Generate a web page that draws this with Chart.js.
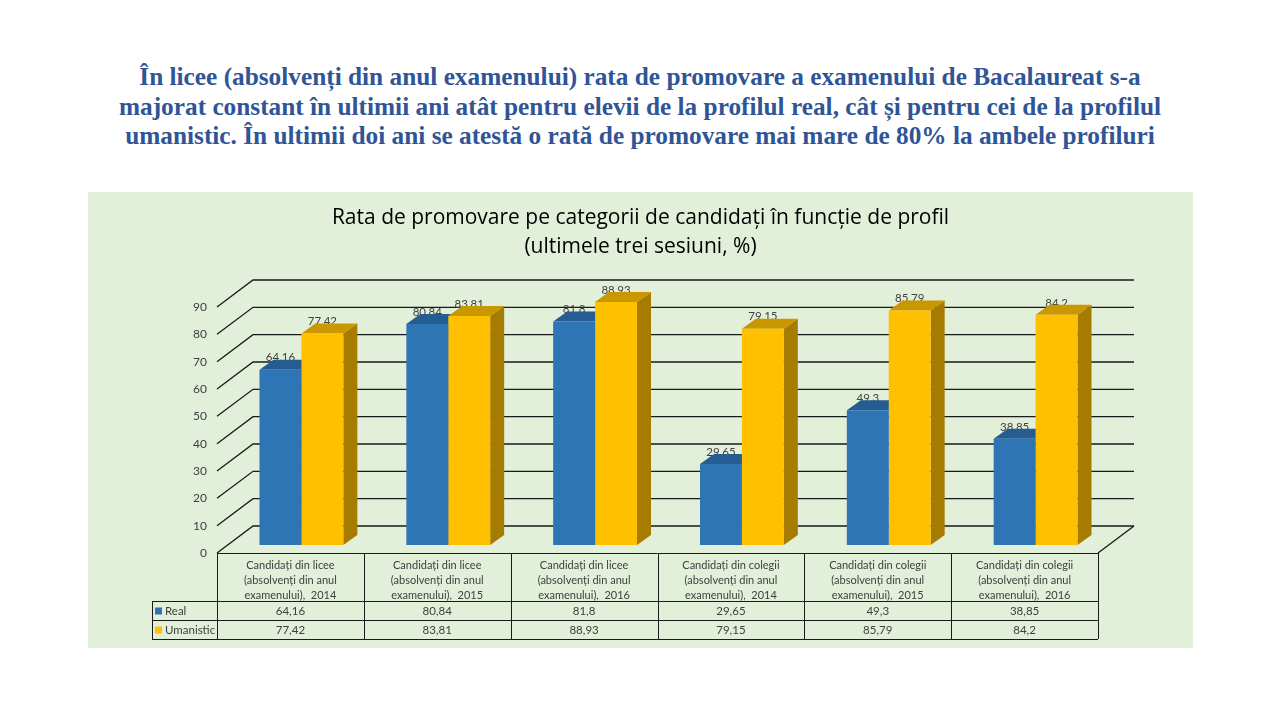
<!DOCTYPE html>
<html>
<head>
<meta charset="utf-8">
<script src="https://cdn.jsdelivr.net/npm/chart.js@4"></script>
<style>
  html, body { margin: 0; padding: 0; background: #ffffff; width: 1280px; height: 720px; overflow: hidden; }
  #headline {
    position: absolute; left: 0; top: 62px; width: 1280px; text-align: center;
    font-family: "Liberation Serif", "DejaVu Serif", serif; font-weight: bold;
    font-size: 25.3px; line-height: 29.5px; color: #2f5597; white-space: nowrap;
  }
  #panel { position: absolute; left: 88px; top: 192px; width: 1105px; height: 456px; background: #e2efd9; }
  #chart { position: absolute; left: 0; top: 0; }
</style>
</head>
<body>
<div id="headline">În licee (absolvenți din anul examenului) rata de promovare a examenului de Bacalaureat s-a<br>majorat constant în ultimii ani atât pentru elevii de la profilul real, cât și pentru cei de la profilul<br>umanistic. În ultimii doi ani se atestă o rată de promovare mai mare de 80% la ambele profiluri</div>
<div id="panel"><canvas id="chart" width="1105" height="456"></canvas></div>
<script>
const chartTitle = ["Rata de promovare pe categorii de candidați în funcție de profil", "(ultimele trei sesiuni, %)"];
const categories = [
  ["Candidați din licee", "(absolvenți din anul", "examenului),  2014"],
  ["Candidați din licee", "(absolvenți din anul", "examenului),  2015"],
  ["Candidați din licee", "(absolvenți din anul", "examenului),  2016"],
  ["Candidați din colegii", "(absolvenți din anul", "examenului),  2014"],
  ["Candidați din colegii", "(absolvenți din anul", "examenului),  2015"],
  ["Candidați din colegii", "(absolvenți din anul", "examenului),  2016"]
];
const seriesNames = ["Real", "Umanistic"];
const realValues = [64.16, 80.84, 81.8, 29.65, 49.3, 38.85];
const umanisticValues = [77.42, 83.81, 88.93, 79.15, 85.79, 84.2];
const yTicks = [0, 10, 20, 30, 40, 50, 60, 70, 80, 90];

const fmt = v => String(v).replace('.', ',');

const FRONT = { dx: -11, dy: 8 };
const BACK = { dx: 25, dy: -19 };
const DEPTH = { dx: 14, dy: -10 };
const faceColors = [
  { top: '#255c92', side: '#1f4e79' },
  { top: '#c99700', side: '#a67c00' }
];
const lineColor = '#1a1a1a';
const textColor = '#404040';
const FONT = 'Lato, "Open Sans", sans-serif';
const TITLE_FONT = '"Open Sans", Lato, sans-serif';

const threeD = {
  id: 'threeD',
  beforeDatasetsDraw(chart) {
    const ctx = chart.ctx, ca = chart.chartArea;
    const ys = chart.scales.y;
    ctx.save();
    ctx.strokeStyle = lineColor; ctx.lineWidth = 1.3;
    yTicks.forEach(v => {
      const p = ys.getPixelForValue(v);
      ctx.beginPath();
      ctx.moveTo(ca.left + FRONT.dx, p + FRONT.dy);
      ctx.lineTo(ca.left + BACK.dx, p + BACK.dy);
      ctx.lineTo(ca.right + BACK.dx, p + BACK.dy);
      ctx.stroke();
    });
    const p0 = ys.getPixelForValue(0);
    ctx.beginPath();
    ctx.moveTo(ca.right + FRONT.dx, p0 + FRONT.dy);
    ctx.lineTo(ca.right + BACK.dx, p0 + BACK.dy);
    ctx.stroke();

    ctx.font = '11.5px ' + FONT;
    ctx.fillStyle = textColor;
    ctx.textAlign = 'center';
    ctx.textBaseline = 'middle';
    chart.data.datasets.forEach((ds, di) => {
      chart.getDatasetMeta(di).data.forEach((bar, i) => {
        ctx.fillText(fmt(ds.data[i]), bar.x, bar.y - 12);
      });
    });

    chart.data.datasets.forEach((ds, di) => {
      const c = faceColors[di];
      chart.getDatasetMeta(di).data.forEach(bar => {
        const l = bar.x - bar.width / 2, r = bar.x + bar.width / 2, t = bar.y, b = bar.base;
        ctx.fillStyle = c.side;
        ctx.beginPath();
        ctx.moveTo(r, t); ctx.lineTo(r + DEPTH.dx, t + DEPTH.dy);
        ctx.lineTo(r + DEPTH.dx, b + DEPTH.dy); ctx.lineTo(r, b);
        ctx.closePath(); ctx.fill();
        ctx.fillStyle = c.top;
        ctx.beginPath();
        ctx.moveTo(l, t); ctx.lineTo(r, t);
        ctx.lineTo(r + DEPTH.dx, t + DEPTH.dy); ctx.lineTo(l + DEPTH.dx, t + DEPTH.dy);
        ctx.closePath(); ctx.fill();
      });
    });
    ctx.restore();
  },
  afterDraw(chart) {
    const ctx = chart.ctx, ca = chart.chartArea;
    const ys = chart.scales.y;
    const n = categories.length;
    const colW = (ca.right - ca.left) / n;
    const left = ca.left + FRONT.dx;
    const right = ca.right + FRONT.dx;
    const top = ys.getPixelForValue(0) + FRONT.dy;
    const rowH = 19;
    const headH = 48;
    const r1 = top + headH, r2 = r1 + rowH, r3 = r2 + rowH;
    const labelLeft = left - 65;
    ctx.save();
    ctx.strokeStyle = lineColor; ctx.lineWidth = 1;
    ctx.beginPath();
    ctx.moveTo(left, top + 0.5); ctx.lineTo(right, top + 0.5);
    ctx.moveTo(labelLeft, r1 + 0.5); ctx.lineTo(right, r1 + 0.5);
    ctx.moveTo(labelLeft, r2 + 0.5); ctx.lineTo(right, r2 + 0.5);
    ctx.moveTo(labelLeft, r3 + 0.5); ctx.lineTo(right, r3 + 0.5);
    for (let i = 0; i <= n; i++) {
      const x = Math.round(left + i * colW) + 0.5;
      ctx.moveTo(x, top); ctx.lineTo(x, r3);
    }
    ctx.moveTo(labelLeft + 0.5, r1); ctx.lineTo(labelLeft + 0.5, r3);
    ctx.stroke();

    const series = [realValues, umanisticValues];
    const colors = chart.data.datasets.map(d => d.backgroundColor);
    ctx.font = '11.5px ' + FONT;
    ctx.textBaseline = 'middle';
    [r1, r2].forEach((ry, si) => {
      const cy = ry + rowH / 2 + 0.5;
      ctx.fillStyle = colors[si];
      ctx.fillRect(labelLeft + 3, cy - 3.5, 7, 7);
      ctx.fillStyle = textColor;
      ctx.textAlign = 'left';
      ctx.fillText(seriesNames[si], labelLeft + 13, cy);
      ctx.textAlign = 'center';
      series[si].forEach((v, i) => {
        ctx.fillText(fmt(v), left + (i + 0.5) * colW, cy);
      });
    });
    ctx.restore();
  }
};

new Chart(document.getElementById('chart'), {
  type: 'bar',
  data: {
    labels: categories,
    datasets: [
      { label: seriesNames[0], data: realValues, backgroundColor: '#2e75b6', borderWidth: 0 },
      { label: seriesNames[1], data: umanisticValues, backgroundColor: '#ffc000', borderWidth: 0 }
    ]
  },
  options: {
    responsive: false,
    animation: false,
    devicePixelRatio: 1,
    categoryPercentage: 0.571,
    barPercentage: 1,
    layout: { padding: 0 },
    plugins: {
      legend: { display: false },
      tooltip: { enabled: false },
      title: {
        display: true,
        text: chartTitle,
        color: '#000000',
        font: { family: TITLE_FONT, size: 21, weight: 'normal', lineHeight: 1.381 },
        padding: { top: 12, bottom: 37 }
      }
    },
    scales: {
      x: {
        grid: { display: false },
        border: { display: false },
        ticks: {
          color: textColor,
          font: { family: FONT, size: 11, lineHeight: 1.36 },
          padding: 5,
          labelOffset: FRONT.dx,
          maxRotation: 0,
          autoSkip: false
        },
        afterFit(s) { s.height = 103; }
      },
      y: {
        min: 0, max: 90,
        grid: { display: false, drawTicks: false },
        border: { display: false },
        afterBuildTicks(s) { s.ticks = yTicks.map(v => ({ value: v })); },
        ticks: {
          color: textColor,
          font: { family: FONT, size: 12 },
          padding: 21,
          labelOffset: FRONT.dy
        },
        afterFit(s) { s.width = 140; }
      },
      spacer: {
        type: 'linear',
        position: 'right',
        display: true,
        grid: { display: false, drawTicks: false },
        border: { display: false },
        ticks: { display: false },
        afterFit(s) { s.width = 84; }
      }
    }
  },
  plugins: [threeD]
});
</script>
</body>
</html>
